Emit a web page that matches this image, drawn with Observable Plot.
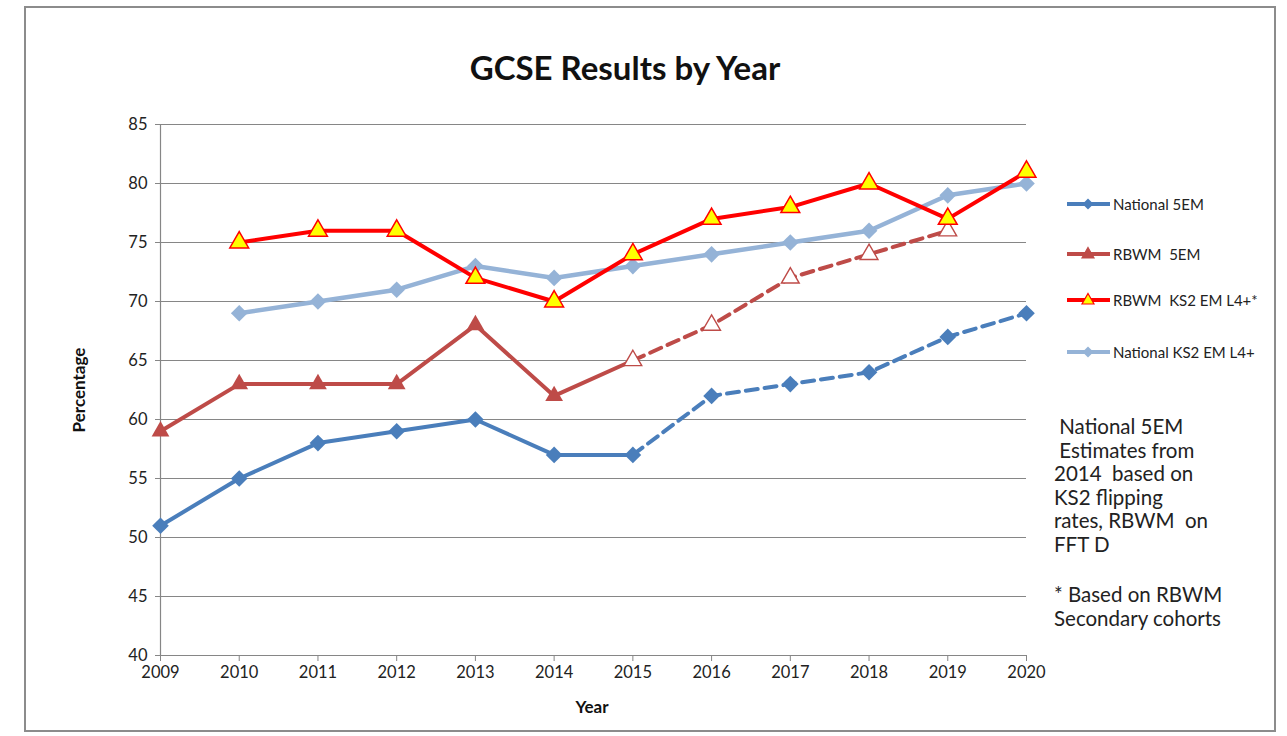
<!DOCTYPE html>
<html><head><meta charset="utf-8">
<script src="https://cdn.jsdelivr.net/npm/d3@7"></script>
<script src="https://cdn.jsdelivr.net/npm/@observablehq/plot@0.6"></script>
<style>
body{margin:0;background:#fff;font-family:Lato,"Open Sans",sans-serif;width:1287px;height:736px;overflow:hidden;position:relative;}
#frame{position:absolute;left:24px;top:6px;width:1248px;height:722px;border:2px solid #8c8c8c;}
#title{position:absolute;left:0;width:1250px;top:47px;text-align:center;font-weight:bold;font-size:33px;line-height:40px;color:#111;}
#chart{position:absolute;left:0;top:80px;}
#ylab{position:absolute;left:78px;top:390px;transform:translate(-50%,-50%) rotate(-90deg);font-weight:bold;font-size:17px;color:#111;white-space:nowrap;}
#xlab{position:absolute;left:592px;top:706px;transform:translate(-50%,-50%);font-weight:bold;font-size:17px;color:#111;}
.leg{position:absolute;left:1066px;height:20px;display:flex;align-items:center;font-size:15px;color:#222;white-space:pre;}
.leg svg{margin-right:2px;}
.note{position:absolute;left:1054px;font-size:20.5px;line-height:23.6px;color:#222;white-space:pre;}
</style>
</head><body>
<div id="frame"></div>
<div id="title">GCSE Results by Year</div>
<div id="chart"></div>
<div id="ylab">Percentage</div>
<div id="xlab">Year</div>
<div id="legend"></div>
<div id="note1" class="note" style="top:415px"></div>
<div id="note2" class="note" style="top:583px"></div>
<script>
// ---- data ----
const years = [2009, 2010, 2011, 2012, 2013, 2014, 2015, 2016, 2017, 2018, 2019, 2020];
const national5EM = [51, 55, 58, 59, 60, 57, 57, 62, 63, 64, 67, 69];
const rbwm5EM = [59, 63, 63, 63, 68, 62, 65, 68, 72, 74, 76, null];
const rbwmKS2 = [null, 75, 76, 76, 72, 70, 74, 77, 78, 80, 77, 81];
const nationalKS2 = [null, 69, 70, 71, 73, 72, 73, 74, 75, 76, 79, 80];
const seriesNames = ["National 5EM", "RBWM  5EM", "RBWM  KS2 EM L4+*", "National KS2 EM L4+"];
const estimateFrom = 2015;
const yTicks = [40, 45, 50, 55, 60, 65, 70, 75, 80, 85];
const noteLines1 = [" National 5EM", " Estimates from", "2014  based on", "KS2 flipping", "rates, RBWM  on", "FFT D"];
const noteLines2 = ["* Based on RBWM", "Secondary cohorts"];

// ---- styles ----
const cN5 = "#4a7ebb", cR5 = "#be4b48", cRK = "#ff0000", cNK = "#95b3d7", grid = "#868686";

const toRows = vals => years.map((year, i) => ({year, value: vals[i]})).filter(d => d.value != null);
const n5 = toRows(national5EM), r5 = toRows(rbwm5EM), rk = toRows(rbwmKS2), nk = toRows(nationalKS2);
const solid = rows => rows.filter(d => d.year <= estimateFrom);
const dashed = rows => rows.filter(d => d.year >= estimateFrom);
const before = rows => rows.filter(d => d.year < estimateFrom);

const W = 1287, H = 640;
const plot = Plot.plot({
  width: W, height: H,
  marginLeft: 160, marginRight: W - 1026, marginTop: 44, marginBottom: 65,
  style: {background: "none", fontFamily: "Lato, 'Open Sans', sans-serif", fontSize: "16.5px"},
  x: {type: "linear", domain: [2009, 2020]},
  y: {domain: [40, 85]},
  marks: [
    Plot.gridY(yTicks, {stroke: grid, strokeOpacity: 1, strokeWidth: 1.2}),
    Plot.axisY(yTicks, {tickSize: 5, tickPadding: 8, stroke: grid, fill: "#222", label: null}),
    Plot.axisX(years, {tickSize: 6, tickPadding: 5, stroke: grid, fill: "#222", tickFormat: d => String(d), label: null}),
    Plot.ruleX([2009], {stroke: grid, strokeWidth: 1.2}),
    Plot.ruleY([40], {stroke: grid, strokeWidth: 1.2}),
    // National 5EM
    Plot.line(solid(n5), {x: "year", y: "value", stroke: cN5, strokeWidth: 4}),
    Plot.line(dashed(n5), {x: "year", y: "value", stroke: cN5, strokeWidth: 4, strokeDasharray: "12,7"}),
    Plot.dot(n5, {x: "year", y: "value", symbol: "diamond2", r: 7.5, fill: cN5}),
    // RBWM 5EM
    Plot.line(solid(r5), {x: "year", y: "value", stroke: cR5, strokeWidth: 4}),
    Plot.line(dashed(r5), {x: "year", y: "value", stroke: cR5, strokeWidth: 4, strokeDasharray: "12,7"}),
    Plot.dot(before(r5), {x: "year", y: "value", symbol: "triangle", r: 6.6, fill: cR5}),
    Plot.dot(dashed(r5), {x: "year", y: "value", symbol: "triangle", r: 6.6, fill: "white", stroke: cR5, strokeWidth: 1.4}),
    // National KS2
    Plot.line(nk, {x: "year", y: "value", stroke: cNK, strokeWidth: 4.5}),
    Plot.dot(nk, {x: "year", y: "value", symbol: "diamond2", r: 7.5, fill: cNK}),
    // RBWM KS2
    Plot.line(rk, {x: "year", y: "value", stroke: cRK, strokeWidth: 4}),
    Plot.dot(rk, {x: "year", y: "value", symbol: "triangle", r: 7, fill: "#ffff00", stroke: cRK, strokeWidth: 1.5})
  ]
});
document.getElementById("chart").appendChild(plot);

// ---- legend ----
const legendDefs = [
  {name: seriesNames[0], stroke: cN5, symbol: "diamond", fill: cN5, top: 194},
  {name: seriesNames[1], stroke: cR5, symbol: "triangle", fill: cR5, top: 244},
  {name: seriesNames[2], stroke: cRK, symbol: "triangle", fill: "#ffff00", mstroke: cRK, top: 290},
  {name: seriesNames[3], stroke: cNK, symbol: "diamond", fill: cNK, top: 342}
];
const legend = document.getElementById("legend");
for (const d of legendDefs) {
  const div = document.createElement("div");
  div.className = "leg";
  div.style.top = d.top + "px";
  const marker = d.symbol === "diamond"
    ? `<path d="M22,4.5 L27.5,10 L22,15.5 L16.5,10 Z" fill="${d.fill}"/>`
    : `<path d="M22,3.5 L28,14 L16,14 Z" fill="${d.fill}" stroke="${d.mstroke || d.fill}" stroke-width="1.2"/>`;
  div.innerHTML = `<svg width="45" height="20"><line x1="1" x2="44" y1="10" y2="10" stroke="${d.stroke}" stroke-width="4"/>${marker}</svg><span>${d.name}</span>`;
  legend.appendChild(div);
}
document.getElementById("note1").textContent = noteLines1.join("\n");
document.getElementById("note2").textContent = noteLines2.join("\n");
</script>
</body></html>
